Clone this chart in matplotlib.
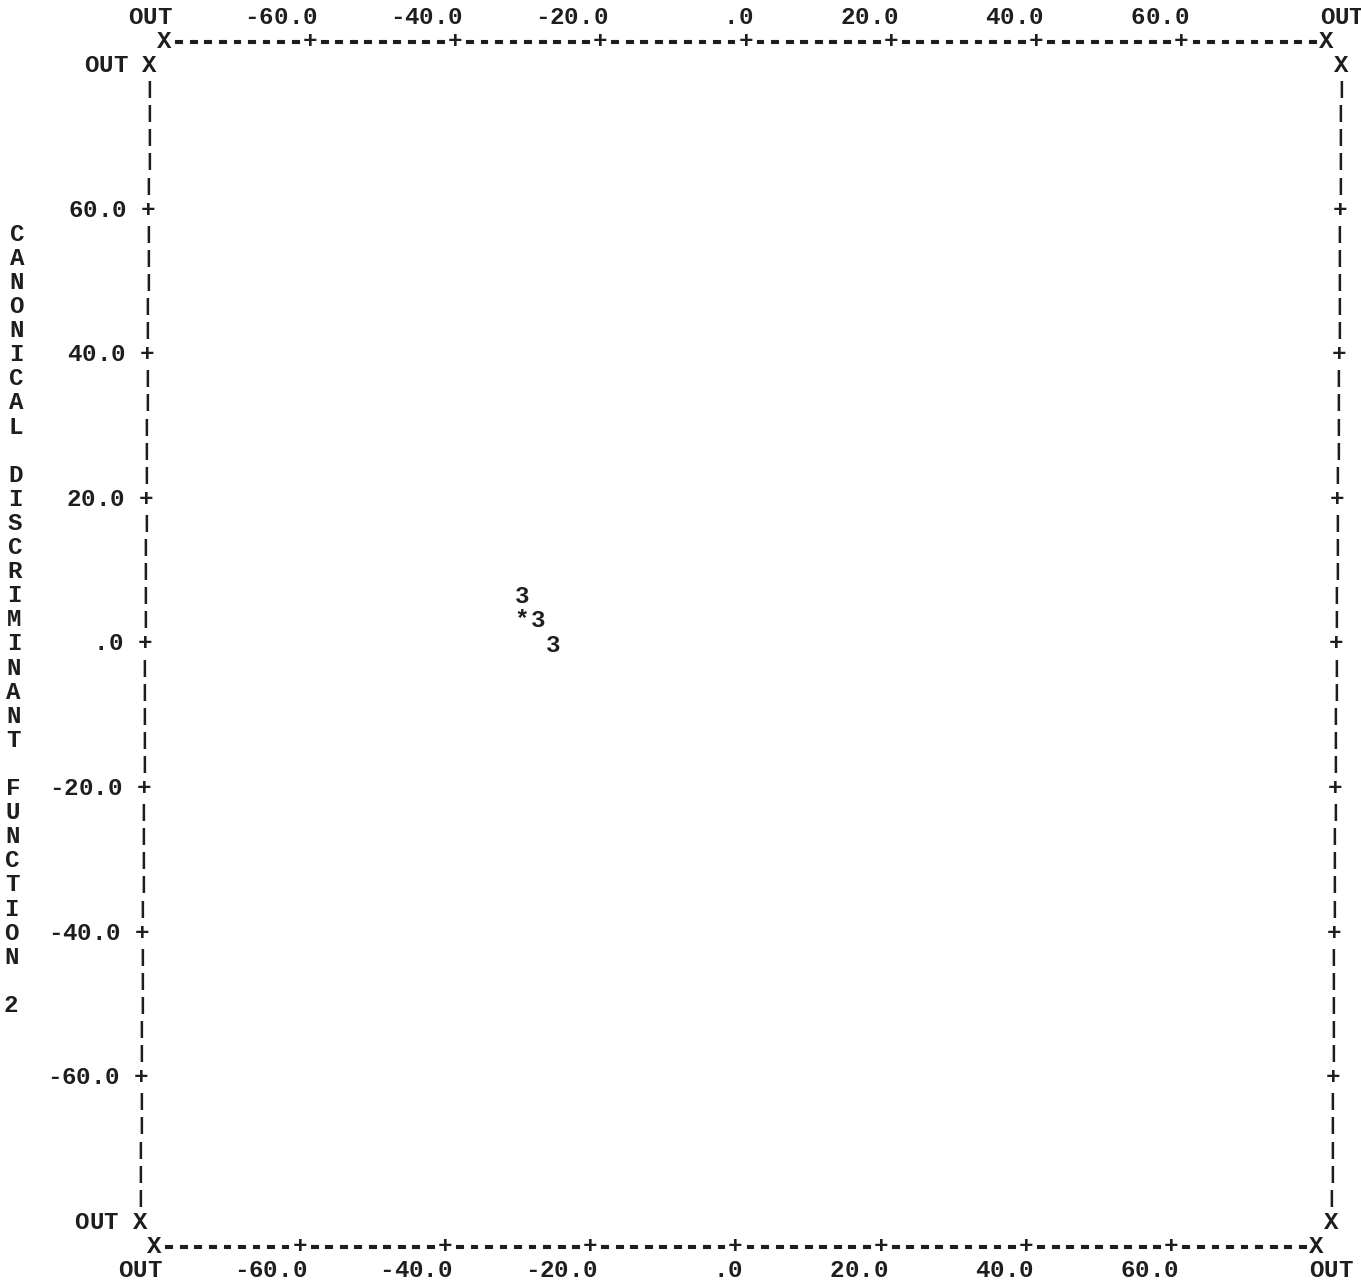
import matplotlib
matplotlib.use("Agg")
import matplotlib.pyplot as plt
import matplotlib.patheffects as pe
from matplotlib.transforms import Affine2D

# ---------------- data ----------------
x_ticks = [-60, -40, -20, 0, 20, 40, 60]
x_tick_labels = ["-60.0", "-40.0", "-20.0", ".0", "20.0", "40.0", "60.0"]
y_ticks = [60, 40, 20, 0, -20, -40, -60]
y_tick_labels = ["60.0", "40.0", "20.0", ".0", "-20.0", "-40.0", "-60.0"]
out_label = "OUT"
y_title = "CANONICAL DISCRIMINANT FUNCTION 2"

group3_x = [-30.1, -27.9, -25.8]
group3_y = [6.5, 3.3, -0.2]
group3_symbol = "3"
centroid_x = [-30.2]
centroid_y = [3.4]
centroid_symbol = "*"

# ---------------- layout (line-printer grid) ----------------
CW = 2.0          # data units per printer column
RH = 20.0 / 6.0   # data units per printer row
FS = 17.4
FAMILY = ["Liberation Mono", "DejaVu Sans Mono"]
INK = "#1e1e1e"
K = 0.00828       # slight page skew of the scan
THICK = [pe.withStroke(linewidth=0.8, foreground=INK)]

fig = plt.figure(figsize=(13.61, 12.84), dpi=100)
ax = fig.add_axes([0, 0, 1, 1])
ax.set_xlim(-101.93, 85.41)
ax.set_ylim(-88.52, 89.07)
ax.axis("off")
T = Affine2D.from_values(1, 0, K, 1, 0, 0) + ax.transData


def put(x, y, ch, size=FS, **kw):
    ax.text(x, y, ch, transform=T, ha="center", va="center", fontsize=size,
            family=FAMILY, fontweight="bold", color=INK, **kw)


def put_right(x_last, y, s):
    for i, ch in enumerate(reversed(s)):
        if ch != " ":
            put(x_last - i * CW, y, ch)


def put_centered(xc, y, s):
    n = len(s)
    for i, ch in enumerate(s):
        put(xc + (i - (n - 1) / 2) * CW, y, ch)


# horizontal axes (top and bottom)
x_lo, x_hi = -80, 80
for y_axis in (25 * RH, -25 * RH):
    put(x_lo, y_axis, "X")
    put(x_hi, y_axis, "X")
    c = x_lo + CW
    while c < x_hi - 1e-9:
        if any(abs(c - t) < 1e-6 for t in x_ticks):
            put(c, y_axis, "+")
        else:
            put(c, y_axis, "-", path_effects=THICK)
        c += CW

# tick labels top and bottom
for y_lab in (26 * RH, -26 * RH):
    for t, lab in zip(x_ticks, x_tick_labels):
        put_right(t, y_lab, lab)
    put_centered(x_lo - 1 * CW, y_lab, out_label)
    put_centered(x_hi + 1 * CW, y_lab, out_label)

# vertical frame lines
x_left, x_right = -82, 82
for r in range(-24, 25):
    y = r * RH
    if abs(r) == 24:
        put(x_left, y, "X")
        put(x_right, y, "X")
    elif any(abs(y - t) < 1e-6 for t in y_ticks):
        put(x_left, y, "+")
        put(x_right, y, "+")
    else:
        put(x_left, y, "|", size=14)
        put(x_right, y, "|", size=14)

# left tick labels
for t, lab in zip(y_ticks, y_tick_labels):
    put_right(-86, t, lab)
put_right(-86, 24 * RH, out_label)
put_right(-86, -24 * RH, out_label)

# vertical axis title, one character per printer row
for i, ch in enumerate(y_title):
    if ch != " ":
        put(-100, (17 - i) * RH, ch)

# data: group 3 cases and group centroid
for x, y in zip(group3_x, group3_y):
    put(x, y, group3_symbol)
for x, y in zip(centroid_x, centroid_y):
    put(x, y, centroid_symbol)

fig.savefig("out.png", dpi=100, facecolor="white")
